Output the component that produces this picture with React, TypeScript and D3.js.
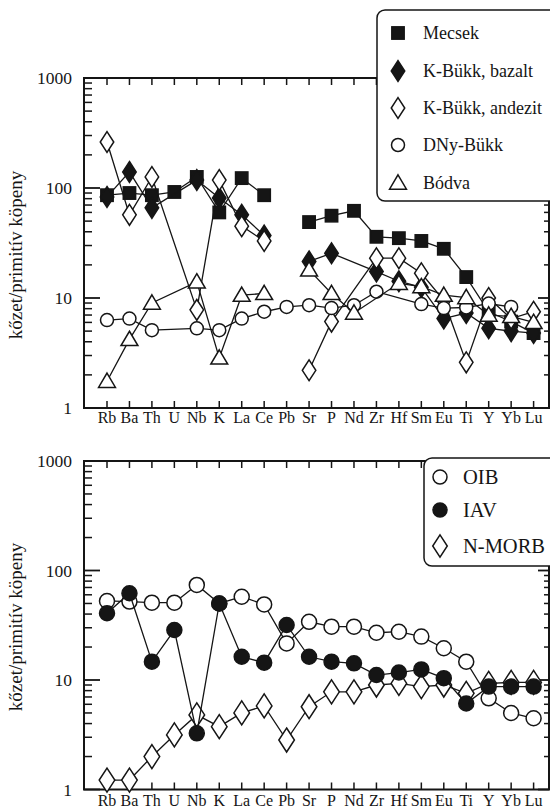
import React from "react";
import * as d3 from "d3";

const elements = ["Rb", "Ba", "Th", "U", "Nb", "K", "La", "Ce", "Pb", "Sr", "P", "Nd", "Zr", "Hf", "Sm", "Eu", "Ti", "Y", "Yb", "Lu"];
const yTickValues = [1, 10, 100, 1000];
const yTickLabels = ["1", "10", "100", "1000"];
const yTitle = "kőzet/primitív köpeny";

// upper panel (null = no analysis)
const mecsek = [86, 90, 86, 92, 126, 60, 123, 86, null, 49, 56, 62, 36, 35, 33, 28, 15.5, 7.5, 6.1, 4.8];
const kBukkBazalt = [83, 140, 66, null, 118, 81, 57, 37, null, 21.5, 25.5, null, 17.4, 14.2, 12.5, 6.5, 7.3, 5.3, 5.0, 4.8];
const kBukkAndezit = [262, 57, 126, null, 7.8, 118, 45, 33, null, 2.2, 6.1, null, 23, 23, 16.8, 9.5, 2.6, 10, 6.5, 7.5];
const dnyBukk = [6.3, 6.5, 5.1, null, 5.3, 5.1, 6.5, 7.5, 8.3, 8.6, 8.1, 8.6, 11.4, null, 8.8, 8.1, 8.2, 8.9, 8.3, null];
const bodva = [1.75, 4.2, 9, null, 14, 2.85, 10.6, 11, null, 18, 11, 7.3, null, 13.6, 12.7, 10.6, 10.1, 7.0, 6.8, 6.0];

// lower panel
const oib = [52.7, 52, 50.8, 50.8, 73.8, 50, 57.6, 49, 21.6, 34, 30.7, 30.7, 27, 27.6, 24.9, 19.5, 14.7, 6.8, 5.0, 4.47];
const iav = [40.7, 62, 14.7, 28.6, 3.26, 50, 16.3, 14.4, 31.8, 16.3, 14.7, 14.2, 11.1, 11.7, 12.5, 10.4, 6.1, 8.7, 8.7, 8.7];
const nmorb = [1.22, 1.22, 2.0, 3.15, 4.8, 3.75, 5.0, 5.8, 2.83, 5.7, 7.8, 7.8, 9.0, 9.3, 8.7, 9.0, 7.55, 9.3, 9.5, 9.5];

const topSeries = [
  { name: "Mecsek", values: mecsek, shape: "square", filled: true },
  { name: "K-Bükk, bazalt", values: kBukkBazalt, shape: "diamond", filled: true },
  { name: "K-Bükk, andezit", values: kBukkAndezit, shape: "diamond", filled: false },
  { name: "DNy-Bükk", values: dnyBukk, shape: "circle", filled: false },
  { name: "Bódva", values: bodva, shape: "triangle", filled: false },
];
const bottomSeries = [
  { name: "OIB", values: oib, shape: "circle", filled: false },
  { name: "IAV", values: iav, shape: "circle", filled: true },
  { name: "N-MORB", values: nmorb, shape: "diamond", filled: false },
];
// drawing order in the lower panel (filled circles on top)
const bottomDrawOrder = [2, 0, 1];

const INK = "#151515";
const FONT = "Liberation Serif, Times New Roman, serif";
const W = 550;
const H = 810;
const left = 84;
const right = 549;
const x = d3.scalePoint<string>().domain(elements).range([107, 533.6]);

// break line across Pb when the series has no Pb value
function segments(values) {
  const segs = [];
  let cur = [];
  values.forEach((v, i) => {
    if (i === 8 && v == null && cur.length) {
      segs.push(cur);
      cur = [];
    }
    if (v != null) cur.push([x(elements[i]), v]);
  });
  if (cur.length) segs.push(cur);
  return segs;
}

const Marker = ({ shape, filled, cx, cy, size }) => {
  const fill = filled ? INK : "#fff";
  const sw = 1.5;
  if (shape === "square") {
    const s = size * 0.95;
    return <rect x={cx - s / 2} y={cy - s / 2} width={s} height={s} fill={fill} stroke={INK} strokeWidth={sw} />;
  }
  if (shape === "circle") {
    return <circle cx={cx} cy={cy} r={size / 2} fill={fill} stroke={INK} strokeWidth={sw} />;
  }
  if (shape === "diamond") {
    const w = size * 0.52;
    const h = size * 0.8;
    return <path d={`M${cx},${cy - h}L${cx + w},${cy}L${cx},${cy + h}L${cx - w},${cy}Z`} fill={fill} stroke={INK} strokeWidth={sw} />;
  }
  const w = size * 0.65;
  const h = size * 1.05;
  return <path d={`M${cx},${cy - h * 0.6}L${cx + w},${cy + h * 0.45}L${cx - w},${cy + h * 0.45}Z`} fill={fill} stroke={INK} strokeWidth={sw} />;
};

const Panel = ({ top, bottom, series, order, markerSize, titleY, labelY }) => {
  const y = d3.scaleLog().domain([1, 1000]).range([bottom, top]);
  const line = d3.line().x((d) => d[0]).y((d) => y(d[1]));
  const minor = y.ticks().filter((t) => !yTickValues.includes(t));
  return (
    <g>
      {/* frame */}
      <rect x={left} y={top} width={right - left} height={bottom - top} fill="none" stroke={INK} strokeWidth={2} />
      {elements.map((e) => (
        <g key={e}>
          <line x1={x(e)} x2={x(e)} y1={top} y2={top + 7} stroke={INK} strokeWidth={1.5} />
          <line x1={x(e)} x2={x(e)} y1={bottom} y2={bottom - 7} stroke={INK} strokeWidth={1.5} />
          <text x={x(e)} y={labelY} textAnchor="middle" fontSize={16} fontFamily={FONT} fill={INK}>
            {e}
          </text>
        </g>
      ))}
      {yTickValues.map((t, i) => (
        <g key={t}>
          <line x1={left} x2={left + 16} y1={y(t)} y2={y(t)} stroke={INK} strokeWidth={1.8} />
          <line x1={right} x2={right - 11} y1={y(t)} y2={y(t)} stroke={INK} strokeWidth={1.8} />
          <text x={72} y={y(t)} dy="0.35em" textAnchor="end" fontSize={17.5} fontFamily={FONT} fill={INK}>
            {yTickLabels[i]}
          </text>
        </g>
      ))}
      {minor.map((t) => (
        <g key={t}>
          <line x1={left} x2={left + 8} y1={y(t)} y2={y(t)} stroke={INK} strokeWidth={1.5} />
          <line x1={right} x2={right - 5} y1={y(t)} y2={y(t)} stroke={INK} strokeWidth={1.5} />
        </g>
      ))}
      <text transform={`translate(22,${titleY})rotate(-90)`} textAnchor="middle" fontSize={19} fontFamily={FONT} fill={INK}>
        {yTitle}
      </text>
      {order.map((si) => {
        const s = series[si];
        return (
          <g key={s.name}>
            {segments(s.values).map((seg, k) => (
              <path key={k} d={line(seg)} fill="none" stroke={INK} strokeWidth={1.3} />
            ))}
            {s.values.map((v, i) =>
              v == null ? null : (
                <Marker key={i} shape={s.shape} filled={s.filled} cx={x(elements[i])} cy={y(v)} size={markerSize} />
              )
            )}
          </g>
        );
      })}
    </g>
  );
};

const Legend = ({ series, bx, by, bw, bh, symX, textX, rowY, fontSize, size }) => (
  <g>
    <rect x={bx} y={by} width={bw} height={bh} rx={8} fill="#fff" stroke={INK} strokeWidth={1.5} />
    {series.map((s, i) => (
      <g key={s.name}>
        <Marker shape={s.shape} filled={s.filled} cx={symX} cy={rowY[i]} size={size} />
        <text x={textX} y={rowY[i]} dy="0.33em" fontSize={fontSize} fontFamily={FONT} fill={INK}>
          {s.name}
        </text>
      </g>
    ))}
  </g>
);

export default function App() {
  return (
    <svg width={W} height={H} style={{ position: "absolute", left: 0, top: 0, background: "#fff" }}>
      <Panel top={78} bottom={408} series={topSeries} order={[0, 1, 2, 3, 4]} markerSize={13} titleY={255} labelY={423} />
      <Legend series={topSeries} bx={377} by={10} bw={190} bh={191} symX={398} textX={423} rowY={[33, 71, 108, 145, 183]} fontSize={18} size={13} />
      <Panel top={461} bottom={789.5} series={bottomSeries} order={bottomDrawOrder} markerSize={15} titleY={627} labelY={806} />
      <Legend series={bottomSeries} bx={424} by={458} bw={150} bh={108} symX={440} textX={463} rowY={[477, 510, 546]} fontSize={20.5} size={14} />
    </svg>
  );
}
